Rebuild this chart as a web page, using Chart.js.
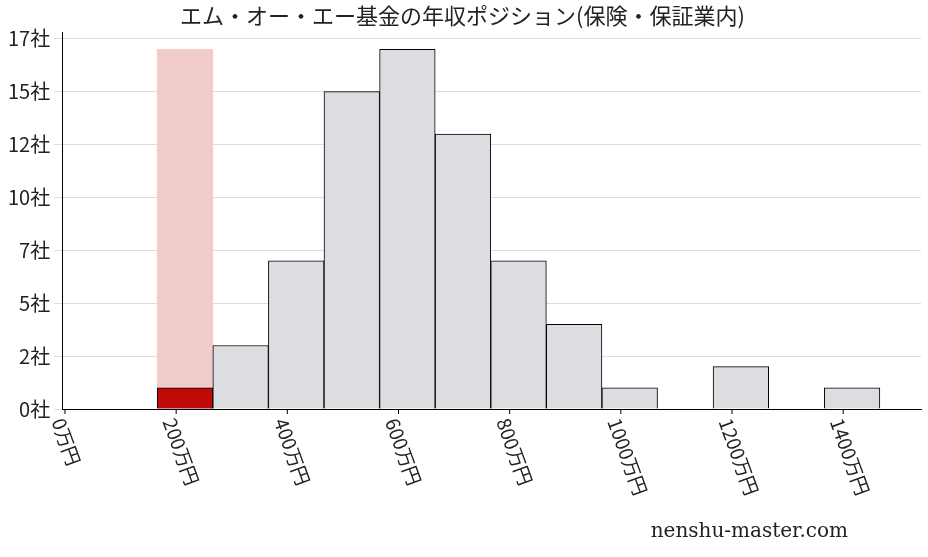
<!DOCTYPE html>
<html><head><meta charset="utf-8">
<script src="https://cdn.jsdelivr.net/npm/chart.js@4"></script>
<style>html,body{margin:0;padding:0;background:#fff}#w{width:928px;height:557px;position:relative}</style>
</head><body><div id="w"><canvas id="c"></canvas></div>
<script>
const binCenters=[216,316,416,516,616,716,816,916,1016,1216,1416];
const counts=[1,3,7,15,17,13,7,4,1,2,1];
const highlightCenter=[216];
const highlightValue=[17];
const xTicks=[0,200,400,600,800,1000,1200,1400];
const yTicks=[0,2.5,5,7.5,10,12.5,15,17.5];
const mainData=binCenters.map((x,i)=>({x,y:counts[i]}));
const hiData=highlightCenter.map((x,i)=>({x,y:highlightValue[i]}));
const colors=binCenters.map(x=>highlightCenter.includes(x)?'#c00a0a':'#dcdde0');
const jp='"Noto Sans CJK JP", sans-serif';
const labelPlugin={id:'lbl',afterDraw(ch){
 const c=ch.ctx,s=ch.scales.x;c.save();c.fillStyle='#222';c.font='19px '+jp;
 xTicks.forEach(v=>{const px=s.getPixelForValue(v);
  c.strokeStyle='#000';c.lineWidth=1;c.beginPath();c.moveTo(px,s.top);c.lineTo(px,s.top+5);c.stroke();
  c.save();c.translate(px-7,s.top+10);c.rotate(70*Math.PI/180);c.textBaseline='middle';c.fillText(v+'万円',0,0);c.restore();});
 c.font='20px "DejaVu Serif", serif';c.textAlign='right';c.fillText('nenshu-master.com',848,537);
 c.restore();}};
new Chart(document.getElementById('c'),{type:'bar',
 data:{datasets:[
  {data:mainData,backgroundColor:colors,borderColor:'#000',borderWidth:1,grouped:false,order:1,categoryPercentage:1,barPercentage:1},
  {data:hiData,backgroundColor:'#f2cccd',borderWidth:0,grouped:false,order:2,categoryPercentage:1,barPercentage:1}
 ]},
 options:{responsive:true,maintainAspectRatio:false,animation:false,
  layout:{padding:{left:4,right:7,top:0,bottom:140}},
  plugins:{legend:{display:false},tooltip:{enabled:false},
   title:{display:true,text:'エム・オー・エー基金の年収ポジション(保険・保証業内)',font:{family:jp,size:22,weight:'normal'},color:'#222',padding:{top:2,bottom:4}}},
  scales:{
   x:{type:'linear',offset:false,min:-5,max:1540,grid:{display:false},border:{color:'#000'},ticks:{display:false}},
   y:{min:0,max:17.8,grid:{color:'#ddd'},border:{color:'#000'},
    afterBuildTicks(a){a.ticks=yTicks.map(v=>({value:v}));},
    ticks:{callback:v=>Math.floor(v)+'社',font:{family:jp,size:20},color:'#222',padding:4}}
  }},
 plugins:[labelPlugin]});
</script></body></html>
